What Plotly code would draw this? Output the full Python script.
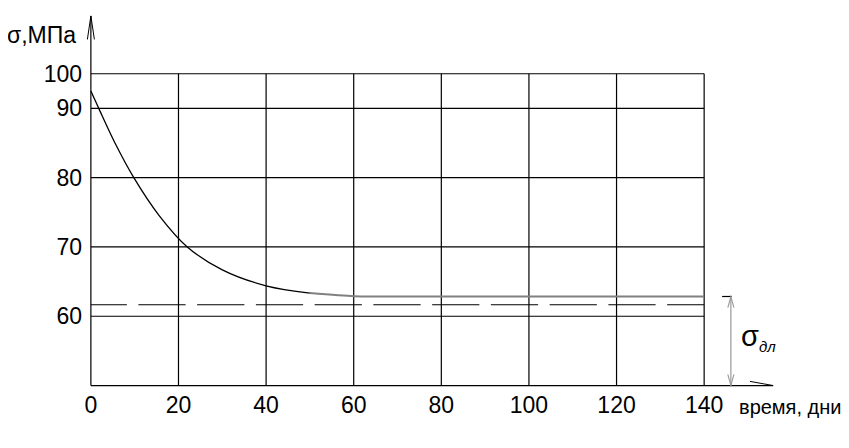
import plotly.graph_objects as go

# ---- data ----
curve_x = [0, 1.8, 5.5, 9.8, 15.5, 22, 30, 40, 50]
curve_y = [92.5, 90, 85, 80, 74.6, 70, 66.7, 64.4, 63.35]
flat_x = [50, 60, 70, 140]
flat_y = [63.35, 62.9, 62.85, 62.85]
long_term_x = [0, 140]
long_term_y = [61.65, 61.65]

x_tick_vals = [0, 20, 40, 60, 80, 100, 120, 140]
x_tick_text = ["0", "20", "40", "60", "80", "100", "120", "140"]
y_tick_vals = [60, 70, 80, 90, 95]
y_tick_text = ["60", "70", "80", "90", "100"]

x_min, x_max = 0, 140
y_min, y_top = 50, 95
x_axis_end = 155.75
y_axis_end = 103.35
sigma_x = 146.1
sigma_level = 62.85

FONT = "Liberation Sans, Arial, sans-serif"

fig = go.Figure()

fig.add_trace(go.Scatter(x=curve_x, y=curve_y, mode="lines",
                         line=dict(color="black", width=1.3, shape="spline", smoothing=1.0),
                         hoverinfo="skip", showlegend=False))
fig.add_trace(go.Scatter(x=flat_x, y=flat_y, mode="lines",
                         line=dict(color="#808080", width=2, shape="spline", smoothing=0.6),
                         hoverinfo="skip", showlegend=False))
dash = "36px,11.5px" + ",47.25px,11.5px" * 11
fig.add_trace(go.Scatter(x=long_term_x, y=long_term_y, mode="lines",
                         line=dict(color="black", width=1.1, dash=dash),
                         hoverinfo="skip", showlegend=False))

shapes = []
line_style = dict(color="black", width=1.2)
# vertical grid lines
for xv in x_tick_vals[1:]:
    shapes.append(dict(type="line", xref="x", yref="y", x0=xv, x1=xv, y0=y_min, y1=y_top,
                       line=line_style, layer="below"))
# horizontal grid lines
for yv in y_tick_vals:
    shapes.append(dict(type="line", xref="x", yref="y", x0=x_min, x1=x_max, y0=yv, y1=yv,
                       line=line_style, layer="below"))
# axes
shapes.append(dict(type="line", xref="x", yref="y", x0=x_min, x1=x_axis_end, y0=y_min, y1=y_min,
                   line=line_style))
shapes.append(dict(type="line", xref="x", yref="y", x0=x_min, x1=x_min, y0=y_min, y1=y_axis_end,
                   line=line_style))
# axis arrow heads
shapes.append(dict(type="line", xref="x", yref="y", x0=x_axis_end - 5.3, x1=x_axis_end,
                   y0=y_min + 0.6, y1=y_min, line=dict(color="black", width=1)))
shapes.append(dict(type="path", xref="x", yref="y",
                   path=f"M {x_min - 0.8} {y_axis_end - 3.4} L {x_min} {y_axis_end} L {x_min + 0.8} {y_axis_end - 3.4}",
                   line=dict(color="black", width=1)))
# sigma dimension
shapes.append(dict(type="line", xref="x", yref="y", x0=sigma_x - 2.0, x1=sigma_x + 0.2,
                   y0=sigma_level, y1=sigma_level, line=dict(color="black", width=1.2)))
shapes.append(dict(type="line", xref="x", yref="y", x0=sigma_x, x1=sigma_x,
                   y0=y_min, y1=sigma_level, line=dict(color="#999999", width=1.2)))
shapes.append(dict(type="path", xref="x", yref="y",
                   path=f"M {sigma_x - 0.7} {sigma_level - 1.6} L {sigma_x} {sigma_level} L {sigma_x + 0.7} {sigma_level - 1.6}",
                   line=dict(color="#999999", width=1.1)))
shapes.append(dict(type="path", xref="x", yref="y",
                   path=f"M {sigma_x - 0.7} {y_min + 1.6} L {sigma_x} {y_min} L {sigma_x + 0.7} {y_min + 1.6}",
                   line=dict(color="#999999", width=1.1)))

annotations = [
    dict(x=x_min, y=100.55, xref="x", yref="y", text="σ,МПа", showarrow=False,
         xanchor="right", yanchor="middle", xshift=-13,
         font=dict(family=FONT, size=23, color="black")),
    dict(x=147.4, y=y_min, xref="x", yref="y", text="время, дни", showarrow=False,
         xanchor="left", yanchor="middle", yshift=-21.5,
         font=dict(family=FONT, size=20, color="black")),
    dict(x=148.0, y=57.0, xref="x", yref="y",
         text="σ<sub><span style='font-size:15px'><i>дл</i></span></sub>", showarrow=False,
         xanchor="left", yanchor="middle", font=dict(family=FONT, size=29, color="black")),
]

fig.update_layout(
    width=849, height=448,
    margin=dict(l=74.61, r=74.19, t=1.72, b=67.08, autoexpand=False),
    paper_bgcolor="white", plot_bgcolor="white",
    shapes=shapes, annotations=annotations,
    xaxis=dict(range=[-1.8, 158], showgrid=False, zeroline=False, showline=False,
               tickmode="array", tickvals=x_tick_vals, ticktext=x_tick_text,
               ticks="", tickfont=dict(family=FONT, size=23, color="black")),
    yaxis=dict(range=[49.5, 104.2], showgrid=False, zeroline=False, showline=False,
               tickmode="array", tickvals=y_tick_vals, ticktext=y_tick_text,
               ticks="", tickfont=dict(family=FONT, size=23, color="black")),
    showlegend=False,
)

fig.write_html("out.html")
